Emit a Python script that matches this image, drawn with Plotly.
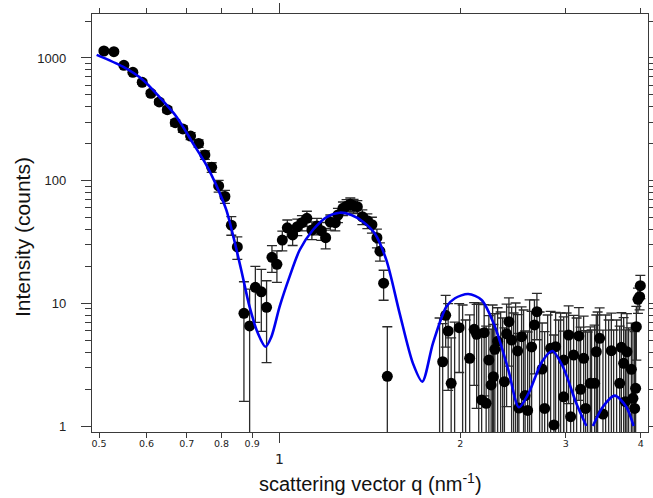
import plotly.graph_objects as go

# ---------------- data: measured points ----------------
q_data = [0.5095, 0.5294, 0.5501, 0.5694, 0.5902, 0.6101, 0.6300, 0.6498, 0.6699, 0.6899,
          0.7106, 0.7328, 0.7507, 0.7705, 0.7914, 0.8107, 0.8308, 0.8502, 0.8720, 0.8913,
          0.9111, 0.9322, 0.9512, 0.9710, 0.9897, 1.0104, 1.0300, 1.0512, 1.0703, 1.0894,
          1.1103, 1.1318, 1.1540, 1.1736, 1.1932, 1.2148, 1.2383, 1.2509, 1.2751, 1.2930,
          1.3117, 1.3280, 1.3475, 1.3736, 1.4003, 1.4251, 1.4527, 1.4696, 1.4905, 1.5118,
          1.8697, 1.8913, 1.9094, 1.9315, 1.9918, 2.0737, 2.1098, 2.1300, 2.1713, 2.1922,
          2.2091, 2.2322, 2.2517, 2.2709, 2.2840, 2.3084, 2.3697, 2.3895, 2.4109, 2.4360,
          2.4927, 2.5049, 2.5310, 2.5656, 2.5903, 2.6303, 2.6589, 2.6843, 2.7384, 2.7650,
          2.8292, 2.8653, 2.8840, 2.9736, 2.9750, 3.0317, 3.0549, 3.0903, 3.1535, 3.1746,
          3.2113, 3.2359, 3.2947, 3.3497, 3.3715, 3.4146, 3.4585, 3.5717, 3.6879, 3.7117,
          3.7444, 3.7690, 3.7918, 3.8568, 3.8803, 3.9058, 3.9208, 3.9313, 3.9559, 3.9811,
          3.9921]
I_data = [1140, 1125, 872, 764, 634, 515, 438, 379, 297, 264,
          231, 201, 162, 128.5, 90.5, 74.3, 43.4, 28.8, 8.29, 6.54,
          13.5, 12.4, 9.28, 23.7, 20.8, 32.8, 41.3, 36.1, 42.1, 45.4,
          49.3, 39.6, 42.7, 39.1, 34.3, 46.0, 45.4, 52.5, 59.5, 62.0,
          64.2, 62.5, 61.3, 50.8, 47.2, 43.8, 34.3, 26.6, 14.6, 2.54,
          3.34, 7.99, 5.95, 2.23, 6.33, 3.56, 6.14, 5.59, 1.63, 5.76,
          1.53, 3.45, 2.16, 2.52, 4.22, 4.90, 2.30, 5.64, 7.08, 5.02,
          4.09, 1.40, 5.35, 1.77, 1.34, 4.41, 6.66, 8.55, 2.91, 1.39,
          4.30, 1.02, 4.43, 1.73, 3.45, 5.52, 1.19, 3.79, 5.42, 1.99,
          3.56, 1.39, 2.23, 2.23, 4.03, 5.19, 1.25, 4.11, 2.23, 4.38,
          3.24, 1.58, 4.03, 2.90, 1.68, 1.39, 2.03, 6.45, 10.79, 11.33,
          13.92]
I_err = [34, 34, 30, 28, 25, 23, 21, 20, 18, 16,
         15, 14, 13, 11.5, 10, 9, 7.5, 6, 6.7, 6.5,
         6.5, 6.5, 6.0, 5.8, 6.0, 6.0, 6.5, 6.5, 6.5, 6.5,
         7, 6.5, 6.5, 6.5, 6.5, 6.5, 6.5, 7, 7.5, 8,
         8, 8, 7.5, 7, 6.5, 6.5, 6, 4.5, 4.0, 3.9,
         3.5, 3.6, 4.0, 3.0, 3.6, 4.5, 4.0, 4.2, 4.5, 4.0,
         5.0, 4.5, 4.0, 4.2, 4.0, 4.3, 4.0, 4.2, 4.0, 4.3,
         4.0, 4.3, 4.0, 4.2, 4.5, 4.2, 4.0, 3.5, 4.0, 4.5,
         4.3, 4.5, 4.0, 4.2, 4.3, 4.0, 4.5, 4.2, 3.8, 4.4,
         4.3, 4.6, 4.2, 4.4, 4.0, 4.0, 4.8, 4.2, 4.3, 4.0,
         4.4, 4.5, 4.2, 4.0, 4.4, 4.5, 4.2, 3.0, 2.5, 2.5,
         3.0]

# error bars of points lying below zero (marker not shown on log axis): upper cap values
q_neg = [1.8478, 1.9574, 2.0184, 2.0417, 2.1470, 2.2646, 2.3354, 2.3535, 2.4547, 2.4736,
         2.5505, 2.6102, 2.7123, 2.7971, 2.9174, 2.9399, 3.0082, 3.1261, 3.2610, 3.3113,
         3.3884, 3.4942, 3.5347, 3.6029, 3.6448, 3.8163]
I_neg_cap = [7.59, 7.04, 9.69, 7.31, 10.06, 9.69, 8.50, 7.59, 8.34, 10.06,
             8.82, 10.65, 8.50, 8.03, 7.31, 8.34, 8.34, 7.59, 5.84, 6.06,
             8.50, 8.03, 7.31, 6.06, 7.31, 6.30]

# ---------------- data: fitted model curve ----------------
q_fit = [0.4955, 0.548, 0.592, 0.631, 0.673, 0.717, 0.755, 0.784, 0.815, 0.836,
         0.863, 0.891, 0.920, 0.947, 0.969, 1.000, 1.039, 1.080, 1.136, 1.196,
         1.259, 1.317, 1.377, 1.440, 1.506, 1.585, 1.668, 1.729, 1.801, 1.896,
         1.960, 2.062, 2.171, 2.285, 2.406, 2.505, 2.600, 2.738, 2.848, 2.966,
         3.122, 3.245, None, 3.328, 3.458, 3.617, 3.782, 3.890]
I_fit = [1060, 849, 662, 478, 332, 202, 134, 92, 57.7, 36.1,
         18.7, 9.39, 5.70, 4.43, 5.35, 9.39, 16.5, 27.2, 39.6, 50.3,
         54.8, 52.5, 46.3, 37.2, 22.6, 8.29, 3.24, 2.30, 4.72, 9.39,
         11.0, 11.92, 10.65, 6.45, 2.86, 1.42, 1.85, 3.35, 4.09, 3.04,
         1.53, 1.0, None, 1.0, 1.437, 1.77, 1.437, 1.0]

# ---------------- axes ticks ----------------
x_tick_vals = [0.5, 0.6, 0.7, 0.8, 0.9, 2, 3, 4]
x_tick_text = ["0.5", "0.6", "0.7", "0.8", "0.9", "2", "3", "4"]
x_major_vals = [1]
x_major_text = ["1"]
y_tick_vals = [1, 10, 100, 1000]
y_tick_text = ["1", "10", "100", "1000"]
y_minor_vals = [m * d for d in (1, 10, 100, 1000) for m in range(2, 10)]

AX = "#3a3a3a"
fig = go.Figure()

fig.add_trace(go.Scatter(
    x=q_neg, y=I_neg_cap, mode="markers",
    marker=dict(size=2, color="black", opacity=0),
    error_y=dict(type="data", symmetric=False, array=[0] * len(q_neg),
                 arrayminus=[100] * len(q_neg), color="#2a2a2a", thickness=1.3, width=5),
    showlegend=False, hoverinfo="skip"))

fig.add_trace(go.Scatter(
    x=q_data, y=I_data, mode="markers",
    marker=dict(size=11, color="black"),
    error_y=dict(type="data", array=I_err, color="#2a2a2a", thickness=1.3, width=5),
    showlegend=False))

fig.add_trace(go.Scatter(
    x=q_fit, y=I_fit, mode="lines", connectgaps=False,
    line=dict(color="#0000f0", width=2.6, shape="spline", smoothing=0.8),
    showlegend=False))

fig.update_layout(
    width=653, height=498,
    margin=dict(l=92, r=5, t=14, b=66, autoexpand=False),
    paper_bgcolor="white", plot_bgcolor="white",
    showlegend=False,
    xaxis=dict(
        type="log", range=[-0.3127, 0.61397], automargin=False,
        showgrid=False, zeroline=False,
        showline=True, linecolor=AX, linewidth=1.4, mirror="allticks",
        tickmode="array", tickvals=x_tick_vals, ticktext=x_tick_text,
        ticks="outside", ticklen=5, tickwidth=1.2, tickcolor=AX,
        tickfont=dict(family="DejaVu Sans", size=9.5, color="#222"),
        ticklabelstandoff=-3,
        minor=dict(tickmode="array", tickvals=x_major_vals, ticks="outside",
                   ticklen=10, tickwidth=1.2, tickcolor=AX, showgrid=False),
    ),
    yaxis=dict(
        type="log", range=[-0.04891, 3.3586], automargin=False,
        showgrid=False, zeroline=False,
        showline=True, linecolor=AX, linewidth=1.4, mirror="allticks",
        tickmode="array", tickvals=y_tick_vals, ticktext=y_tick_text,
        ticks="outside", ticklen=10, tickwidth=1.2, tickcolor=AX,
        tickfont=dict(family="Liberation Sans", size=13, color="#222"),
        ticklabelstandoff=12,
        minor=dict(tickmode="array", tickvals=y_minor_vals, ticks="outside",
                   ticklen=6, tickwidth=1.2, tickcolor=AX, showgrid=False),
    ),
    annotations=[
        dict(text=x_major_text[0], x=0, xref="x", y=-0.0646, yref="paper",
             showarrow=False, xanchor="center", yanchor="middle",
             font=dict(family="DejaVu Sans", size=14, color="#222")),
        dict(text="scattering vector q (nm<sup>-1</sup>)", x=0.5, xref="paper",
             y=-0.122, yref="paper", showarrow=False, xanchor="center", yanchor="middle",
             font=dict(family="Liberation Sans", size=20, color="#111")),
        dict(text="Intensity (counts)", x=-0.1259, xref="paper", y=0.4665, yref="paper",
             showarrow=False, textangle=-90, xanchor="center", yanchor="middle",
             font=dict(family="Liberation Sans", size=21, color="#111")),
    ],
)

fig.write_html("out.html", config={"displayModeBar": False},
               post_script="document.body.style.margin='0';")
